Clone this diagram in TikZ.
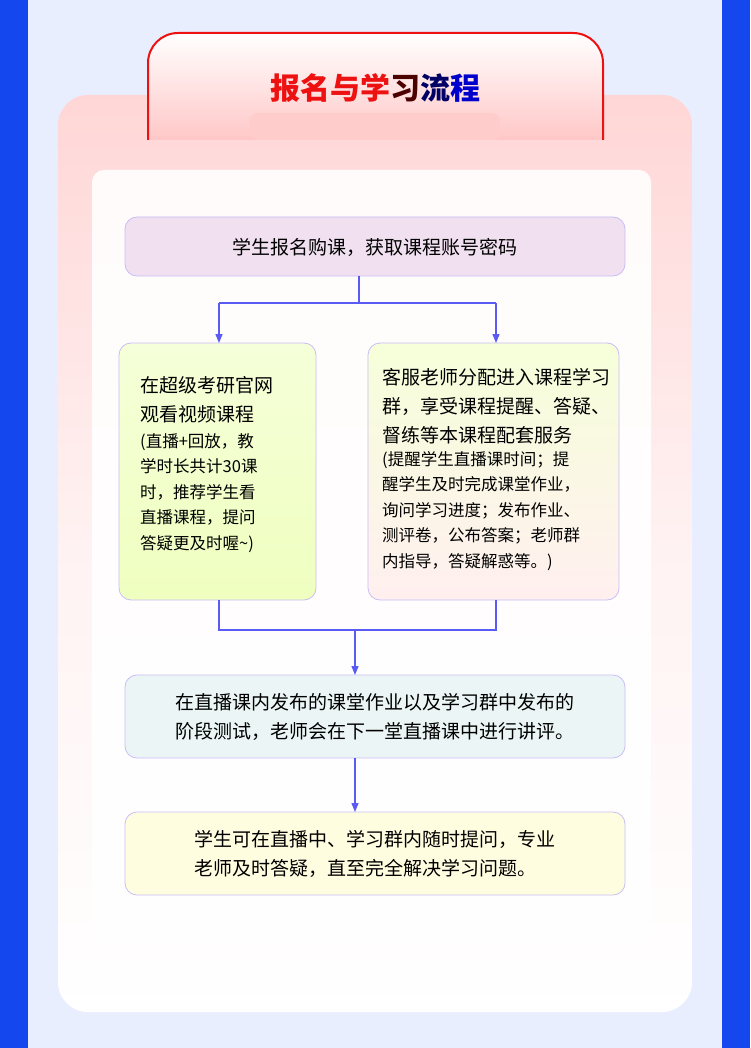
\documentclass[tikz,border=0pt]{standalone}
\usepackage{fontspec}
\setmainfont{Noto Sans CJK SC}
\usetikzlibrary{arrows.meta, positioning}
\definecolor{bgblue}{HTML}{E9EEFF}
\definecolor{sideblue}{HTML}{1448EE}
\definecolor{linkblue}{HTML}{5A5AF5}
\definecolor{edgepurple}{HTML}{C9BDF6}
\definecolor{titlered}{HTML}{EE1111}

\begin{document}
\begin{tikzpicture}[
        x=1pt, y=-1pt,
        base/.style = {draw=edgepurple, line width=0.8pt, rounded corners=12pt},
        txt/.style = {font=\fontsize{19}{29}\selectfont, align=left, inner sep=0pt},
        subtxt/.style = {font=\fontsize{16.5}{25.5}\selectfont, align=left, inner sep=0pt},
        link/.style = {draw=linkblue, line width=1.3pt},
        arr/.style = {link, -{Triangle[length=9pt, width=7pt]}},
        ]
        % page
        \useasboundingbox (0,0) rectangle (750,1048);
        \fill[bgblue] (0,0) rectangle (750,1048);
        \fill[sideblue] (0,0) rectangle (28,1048);
        \fill[sideblue] (722,0) rectangle (750,1048);
        % main card
        \shade[top color=red!16, bottom color=white, middle color=red!5, rounded corners=30pt]
            (58,95) rectangle (692,1012);
        % title tab
        \draw[titlered, line width=2pt, top color=white, bottom color=red!22, rounded corners=30pt]
            (148,140) -- (148,33) -- (603,33) -- (603,140);
        \fill[red!20, rounded corners=8pt] (250,113) rectangle (500,140);
        \node[font=\fontsize{30}{34}\selectfont\bfseries] (title) at (375,88)
            {\textcolor{titlered}{报名与学}\textcolor{black!70!red}{习}\textcolor{black!60!blue}{流}\textcolor{blue!80!black}{程}};
        % inner panel
        \fill[white, opacity=0.9, rounded corners=12pt] (92,170) rectangle (651,945);
        % boxes
        \draw[base, fill=violet!12] (125,217) rectangle (625,276);
        \node[txt] (enrol) at (375,247) {学生报名购课，获取课程账号密码};
        \draw[base, top color=lime!15, bottom color=lime!25] (119,343) rectangle (316,600);
        \coordinate (lefttop) at (219,343);
        \coordinate (leftbot) at (219,600);
        \node[txt, anchor=north west] (watch) at (140,376) {在超级考研官网\\观看视频课程};
        \node[subtxt, anchor=north west] (watchnote) at (140,433)
            {(直播+回放，教\\学时长共计30课\\时，推荐学生看\\直播课程，提问\\答疑更及时喔\textasciitilde)};
        \draw[base, top color=lime!15, bottom color=red!6] (368,343) rectangle (619,600);
        \coordinate (righttop) at (496,343);
        \coordinate (rightbot) at (496,600);
        \node[txt, anchor=north west] (group) at (382,368)
            {客服老师分配进入课程学习\\群，享受课程提醒、答疑、\\督练等本课程配套服务};
        \node[subtxt, anchor=north west] (groupnote) at (382,451)
            {(提醒学生直播课时间；提\\醒学生及时完成课堂作业，\\询问学习进度；发布作业、\\测评卷，公布答案；老师群\\内指导，答疑解惑等。)};
        \draw[base, fill=teal!8] (125,675) rectangle (625,758);
        \node[txt] (review) at (375,717)
            {在直播课内发布的课堂作业以及学习群中发布的\\阶段测试，老师会在下一堂直播课中进行讲评。};
        \draw[base, fill=yellow!12] (125,812) rectangle (625,895);
        \node[txt] (ask) at (375,854)
            {学生可在直播中、学习群内随时提问，专业\\老师及时答疑，直至完全解决学习问题。};
        % connectors
        \coordinate (split) at (359,276);
        \coordinate (merge) at (355,630);
        \draw[link] (split) -- (359,303) -- (219,303);
        \draw[link] (359,303) -- (496,303);
        \draw[arr] (219,303) -- (lefttop);
        \draw[arr] (496,303) -- (righttop);
        \draw[link] (leftbot) |- (merge) -| (rightbot);
        \draw[arr] (merge) -- (355,675);
        \draw[arr] (355,758) -- (355,812);
\end{tikzpicture}
\end{document}
